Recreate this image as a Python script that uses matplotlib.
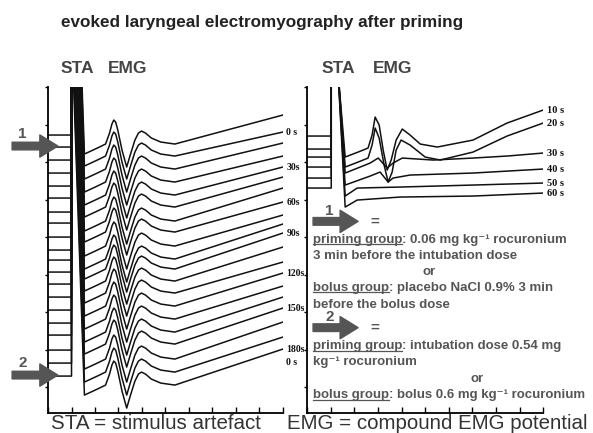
import numpy as np
import matplotlib.pyplot as plt
from matplotlib.lines import Line2D

plt.rcParams['font.family'] = ['Liberation Sans', 'DejaVu Sans']

# ---- left panel: 20 sweeps, one every 10 s (amplitude in arbitrary units) ----
left_baselines = [278, 266, 253, 240, 227, 215, 201, 190, 176, 163,
                  153, 141, 129, 116, 103, 90, 78, 63, 50, 37]
left_end_rise = [20, 15, 17, 17, 19, 21, 24, 21, 22, 26,
                 27, 25, 22, 24, 24, 26, 27, 28, 26, 27]
# shape of one sweep relative to its baseline (time in ms)
sweep_t = [0, 1.0, 1.0, 1.03, 1.55, 2.1, 2.45, 2.62, 2.72, 2.8, 2.88, 2.97, 3.15,
           3.35, 3.5, 3.7, 3.85, 3.98, 4.15, 4.4, 4.8, 5.4]
sweep_y = [0, 0, 330, 330, -19, -13, -9, 2, 11, 15, 13, 5, -15,
           -32, -20, -5, 2, 4, 2, -3, -7, -9]
left_label_idx = [1, 4, 7, 10, 13, 16, 19]
left_labels = ['0 s', '30s', '60s', '90s', '120s', '150s', '180s']

# ---- right panel: 6 sweeps ----
right_baselines = [277, 264, 256, 246, 235, 225]
right_spike_top = 340
right_t = [
    [1.61, 2.16, 2.58, 2.75, 2.88, 3.05, 3.22, 3.39, 3.56, 3.77, 4.03, 4.36, 4.79, 5.51, 7.03, 8.47, 10],
    [1.61, 2.16, 2.58, 2.75, 2.88, 3.05, 3.26, 3.43, 3.60, 3.77, 3.98, 4.36, 5.0, 5.64, 7.03, 8.47, 10],
    [1.61, 2.67, 3.01, 3.39, 3.64, 4.03, 5.34, 7.03, 8.47, 10],
    [1.61, 2.67, 3.09, 3.43, 3.64, 4.36, 7.03, 10],
    [1.61, 2.12, 3.94, 7.03, 10],
    [1.61, 2.12, 3.94, 7.03, 10],
]
right_y = [
    [256, 261, 265, 278, 296, 288, 263, 243, 253, 273, 284, 278, 269, 266, 273, 290, 303],
    [246, 251, 255, 268, 285, 275, 248, 231, 241, 263, 273, 268, 256, 253, 261, 277, 290],
    [240, 250, 255, 245, 250, 255, 253, 255, 257, 260],
    [228, 237, 241, 231, 235, 238, 240, 244],
    [217, 225, 226, 228, 230],
    [206, 213, 216, 217, 220],
]
right_labels = ['10 s', '20 s', '30 s', '40 s', '50 s', '60 s']

fig = plt.figure(figsize=(5.93, 4.33), dpi=100)
axl = fig.add_axes([0.081, 0.046, 0.396, 0.753])
axr = fig.add_axes([0.518, 0.046, 0.398, 0.753])

for ax in (axl, axr):
    ax.set_xlim(0, 10)
    ax.set_ylim(0, 326)
    ax.spines[['top', 'right']].set_visible(False)
    ax.spines[['left', 'bottom']].set_linewidth(1.3)
    ax.set_xticks(range(11))
    ax.set_xticklabels([])
    ax.tick_params(axis='x', direction='in', length=4, width=1)
    ax.set_yticks(np.arange(26, 327, 37.5))
    ax.set_yticklabels([])
    ax.tick_params(axis='y', direction='out', length=2.5, width=1)
    ax.patch.set_alpha(0)

trace_kw = dict(color='#111111', lw=1.1, solid_joinstyle='round')
lab_kw = dict(family=['Liberation Serif'], fontweight='bold', va='center',
              ha='left', clip_on=False, color='#111111')

# left sweeps
for i, (b, r) in enumerate(zip(left_baselines, left_end_rise)):
    t = sweep_t + [10]
    y = [b + v for v in sweep_y] + [b + r]
    axl.plot(t, y, **trace_kw)
for i, lab in zip(left_label_idx, left_labels):
    axl.text(10.15, left_baselines[i] + left_end_rise[i], lab, fontsize=7, **lab_kw)
axl.text(10.15, left_baselines[-1] + left_end_rise[-1] - 13, '0 s', fontsize=7, **lab_kw)

# right sweeps
for b, ts, ys, lab in zip(right_baselines, right_t, right_y, right_labels):
    t = [0, 1.02, 1.02, 1.31] + ts
    y = [b, b, right_spike_top, right_spike_top] + ys
    axr.plot(t, y, **trace_kw)
    axr.text(10.15, ys[-1], lab, fontsize=7.5, **lab_kw)

# headers and footers
hdr = dict(fontsize=12.5, fontweight='bold', color='#444444', ha='center',
           va='center', clip_on=False)
axl.text(1.25, 345, 'STA', **hdr)
axl.text(3.4, 345, 'EMG', **hdr)
axr.text(1.31, 345, 'STA', **hdr)
axr.text(3.62, 345, 'EMG', **hdr)
foot = dict(fontsize=14.8, color='#333333', ha='center', va='baseline', clip_on=False)
axl.text(4.6, -16, 'STA = stimulus artefact', **foot)
axr.text(5.5, -16, 'EMG = compound EMG potential', **foot)
fig.text(0.442, 0.949, 'evoked laryngeal electromyography after priming',
         fontsize=12.3, fontweight='bold', color='#222222', ha='center', va='center')

arrow_col = '#555555'
arrow_props = dict(arrowstyle='simple,head_length=1.3,head_width=1.6,tail_width=0.55',
                   color=arrow_col, shrinkA=0, shrinkB=0, mutation_scale=10)
num_kw = dict(fontsize=11, fontweight='bold', color=arrow_col, ha='center', va='center')

# arrows pointing at sweep 2 and the last sweep
for idx, num in [(1, '1'), (19, '2')]:
    yb = left_baselines[idx] + 1
    axl.annotate('', xy=(0.42, yb), xytext=(-1.53, yb), arrowprops=arrow_props,
                 annotation_clip=False)
    axl.text(-1.08, yb + 12, num, clip_on=False, **num_kw)

# legend text block in right panel
txt = dict(fontsize=9.5, fontweight='bold', color='#555555', transform=axr.transAxes,
           va='baseline', ha='left')
underlined = []


def line(y, head, rest):
    t1 = axr.text(0.025, y, head, **txt)
    axr.annotate(rest, xy=(1, 0), xycoords=t1, fontsize=9.5, fontweight='bold',
                 color='#555555', va='bottom', ha='left', annotation_clip=False)
    underlined.append(t1)


for y0, num in [(0.588, '1'), (0.262, '2')]:
    axr.annotate('', xy=(0.216, y0), xytext=(0.025, y0), xycoords='axes fraction',
                 textcoords='axes fraction', arrowprops=arrow_props)
    axr.text(0.095, y0 + 0.032, num, transform=axr.transAxes, **num_kw)
    axr.text(0.288, y0, '=', transform=axr.transAxes, **num_kw)

line(0.522, 'priming group', ': 0.06 mg kg\u207b\u00b9 rocuronium')
axr.text(0.025, 0.473, '3 min before the intubation dose', **txt)
axr.text(0.517, 0.424, 'or', **{**txt, 'ha': 'center'})
line(0.375, 'bolus group', ': placebo NaCl 0.9% 3 min')
axr.text(0.025, 0.322, 'before the bolus dose', **txt)
line(0.196, 'priming group', ': intubation dose 0.54 mg')
axr.text(0.025, 0.147, 'kg\u207b\u00b9 rocuronium', **txt)
axr.text(0.72, 0.095, 'or', **{**txt, 'ha': 'center'})
line(0.045, 'bolus group', ': bolus 0.6 mg kg\u207b\u00b9 rocuronium')

fig.canvas.draw()
inv = fig.transFigure.inverted()
for t1 in underlined:
    bb = t1.get_window_extent()
    yy = bb.y0 + 0.12 * bb.height
    (x0, y0), (x1, _) = inv.transform([(bb.x0, yy), (bb.x1, yy)])
    fig.add_artist(Line2D([x0, x1], [y0, y0], color='#555555', lw=0.9))

fig.savefig('out.png', dpi=100)
plt.close(fig)
